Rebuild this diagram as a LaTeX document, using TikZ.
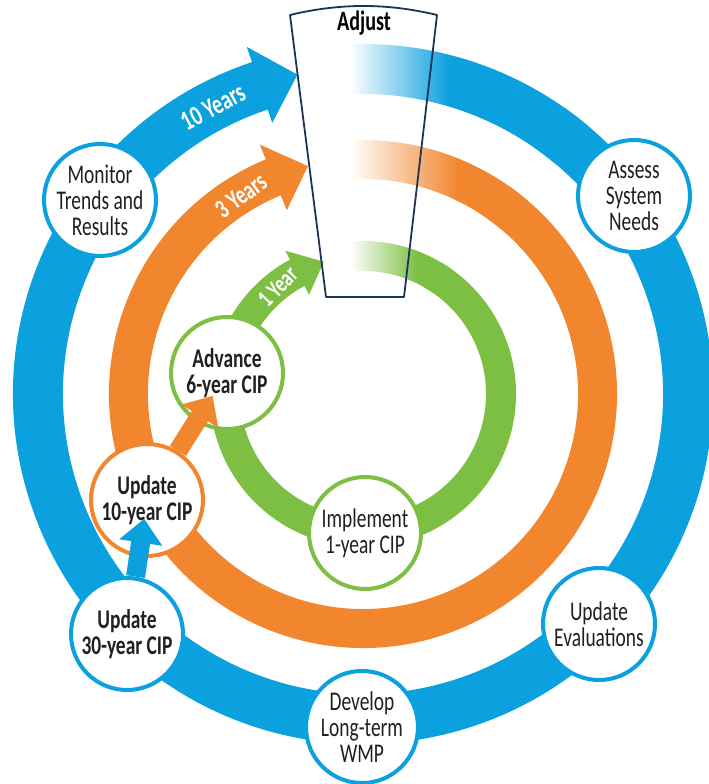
\documentclass[tikz,border=0pt]{standalone}
\usepackage{fontspec}
\setmainfont{Carlito}[FakeStretch=0.72]
\usetikzlibrary{arrows.meta, calc}
\definecolor{RingBlue}{HTML}{0BA0DE}
\definecolor{RingOrange}{HTML}{F2862E}
\definecolor{RingGreen}{HTML}{7CBF42}
\definecolor{BoxLine}{HTML}{1C3557}
\definecolor{Ink}{HTML}{231F20}
\tikzset{
    stepcirc/.style={circle, draw, line width=4pt, fill=white, minimum size=112pt, inner sep=0pt, align=center, text=Ink, font=\fontsize{27}{26}\selectfont},
    bluecirc/.style={stepcirc, draw=RingBlue},
    orangecirc/.style={stepcirc, draw=RingOrange},
    greencirc/.style={stepcirc, draw=RingGreen},
    boldtext/.style={font=\fontsize{27}{26}\selectfont\bfseries},
    yearlabel/.style={text=white, font=\fontsize{28}{28}\selectfont\bfseries, inner sep=0pt},
    linkarrow/.style={line width=19pt, -{Triangle[length=24pt, width=42pt]}},
}

\begin{document}
\begin{tikzpicture}[x=1pt, y=1pt]
                \useasboundingbox (0,0) rectangle (709,784);
                \coordinate (hub) at (363,390);

                % Anelli (ring bands, clockwise from the box)
                \begin{scope}[shift={(hub)}]
                    % blue ring: 10 years
                    \draw[RingBlue, line width=50pt] (108:325) arc[start angle=108, end angle=415, radius=325];
                    \fill[RingBlue] (108.5:366) -- (101.6:326) -- (108.5:286) -- cycle;
                    \begin{scope}
                        \clip (50:350) arc[start angle=50, end angle=100, radius=350] -- (100:300) arc[start angle=100, end angle=50, radius=300] -- cycle;
                        \shade[left color=white, right color=RingBlue] (-13,200) rectangle (87,360);
                        \fill[RingBlue] (87,200) rectangle (360,360);
                    \end{scope}

                    % orange ring: 3 years
                    \draw[RingOrange, line width=39pt] (112:234.5) arc[start angle=112, end angle=415, radius=234.5];
                    \fill[RingOrange] (112.5:270) -- (103.6:234.5) -- (112.5:199) -- cycle;
                    \begin{scope}
                        \clip (50:254) arc[start angle=50, end angle=100, radius=254] -- (100:215) arc[start angle=100, end angle=50, radius=215] -- cycle;
                        \shade[left color=white, right color=RingOrange] (-13,150) rectangle (95,260);
                        \fill[RingOrange] (95,150) rectangle (260,260);
                    \end{scope}

                    % green ring: 1 year
                    \draw[RingGreen, line width=30pt] (118:138) arc[start angle=118, end angle=420, radius=138];
                    \fill[RingGreen] (118.5:163) -- (106.5:138) -- (118.5:113) -- cycle;
                    \begin{scope}
                        \clip (55:153) arc[start angle=55, end angle=100, radius=153] -- (100:123) arc[start angle=100, end angle=55, radius=123] -- cycle;
                        \shade[left color=white, right color=RingGreen] (-13,90) rectangle (55,160);
                        \fill[RingGreen] (55,90) rectangle (160,160);
                    \end{scope}

                    % Etichette sugli archi
                    \node[yearlabel, rotate=28] (tenyears) at (117.6:324) {10 Years};
                    \node[yearlabel, rotate=36, font=\fontsize{27}{27}\selectfont\bfseries] (threeyears) at (121.6:233) {3 Years};
                    \node[yearlabel, rotate=46, font=\fontsize{25}{25}\selectfont\bfseries] (oneyear) at (128.5:137) {1 Year};
                \end{scope}

                % Adjust box
                \coordinate (boxTL) at (290,769);
                \coordinate (boxTR) at (437,769);
                \coordinate (boxBR) at (404,487);
                \coordinate (boxBL) at (326,487);
                \draw[BoxLine, line width=1.8pt, line join=round] (boxBL) -- (boxTL) .. controls (340,781) and (387,781) .. (boxTR) -- (boxBR) -- cycle;
                \node[font=\fontsize{28}{28}\selectfont\bfseries, text=black] (adjust) at (364,761) {Adjust};

                % Cerchi (steps on the rings)
                \node[bluecirc] (monitor) at (100,584) {Monitor\\Trends and\\Results};
                \node[bluecirc] (assess) at (634,588) {Assess\\System\\Needs};
                \node[bluecirc] (evals) at (599,160) {Update\\Evaluations};
                \node[bluecirc] (develop) at (362,57) {Develop\\Long-term\\WMP};
                \node[bluecirc, boldtext] (upd30) at (127,150) {Update\\30-year CIP};
                \node[orangecirc, boldtext] (upd10) at (147,284) {Update\\10-year CIP};
                \node[greencirc, boldtext] (advance) at (227,411) {Advance\\6-year CIP};
                \node[greencirc] (implement) at (365,251) {Implement\\1-year CIP};

                % Frecce di collegamento
                \draw[linkarrow, RingBlue, shorten >=-39pt] (upd30) -- (upd10);
                \draw[linkarrow, RingOrange, shorten >=-31pt] (upd10) -- (advance);

            \end{tikzpicture}
\end{document}
